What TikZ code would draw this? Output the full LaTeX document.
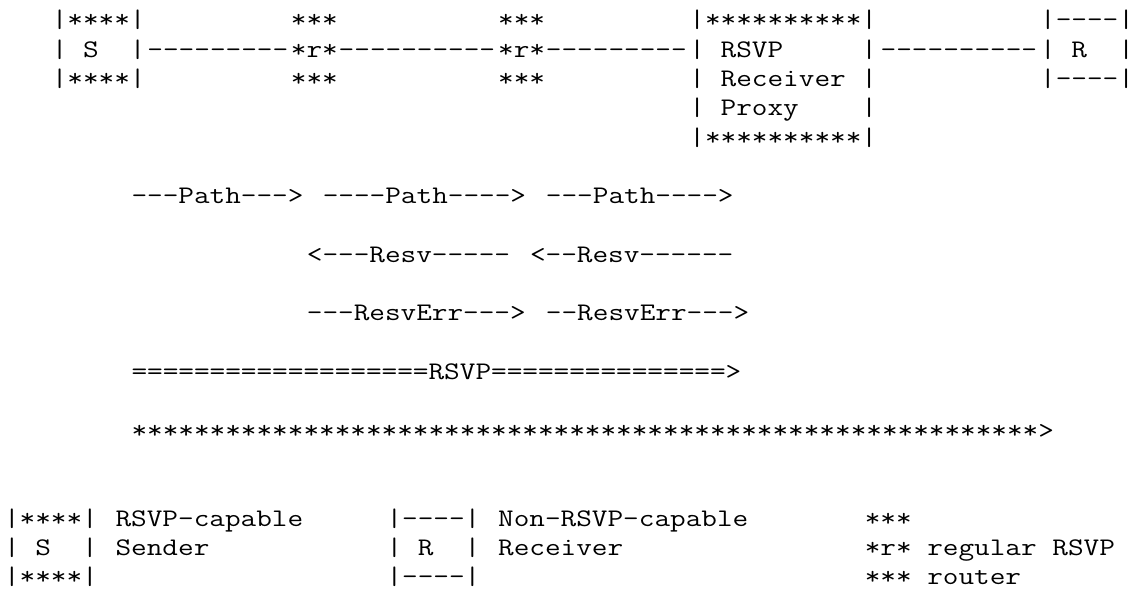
\documentclass[tikz,border=0pt]{standalone}
\usepackage{fontspec}
\setmonofont[FakeStretch=1.2]{Latin Modern Mono}
\usepackage{tikz}

\newcommand{\cw}{15.94}
\newcommand{\lh}{29.3}
\newcommand{\asc}[4]{\node[ascii] (#1) at ({4+#2*\cw},{28+#3*\lh}) {#4};}

\begin{document}
\begin{tikzpicture}[x=0.5pt,y=-0.5pt,
  ascii/.style={anchor=base west,inner sep=0pt,outer sep=0pt,
    font=\ttfamily\fontsize{12.65}{14}\selectfont}]
\useasboundingbox (0,0) rectangle (1133,592);

\asc{sndT}{3}{0}{|****|}
\asc{rtrAT}{18}{0}{***}
\asc{rtrBT}{31}{0}{***}
\asc{proxyT}{43}{0}{|**********|}
\asc{rcvT}{65}{0}{|----|}

\asc{snd}{3}{1}{|~S~~|}
\asc{linkA}{9}{1}{---------}
\asc{rtrA}{18}{1}{*r*}
\asc{linkB}{21}{1}{----------}
\asc{rtrB}{31}{1}{*r*}
\asc{linkC}{34}{1}{---------}
\asc{proxy}{43}{1}{|~RSVP~~~~~|}
\asc{linkD}{55}{1}{----------}
\asc{rcv}{65}{1}{|~R~~|}

\asc{sndB}{3}{2}{|****|}
\asc{rtrAB}{18}{2}{***}
\asc{rtrBB}{31}{2}{***}
\asc{proxyR}{43}{2}{|~Receiver~|}
\asc{rcvB}{65}{2}{|----|}
\asc{proxyP}{43}{3}{|~Proxy~~~~|}
\asc{proxyB}{43}{4}{|**********|}

\asc{pathA}{8}{6}{---Path--->}
\asc{pathB}{20}{6}{----Path---->}
\asc{pathC}{34}{6}{---Path---->}

\asc{resvA}{19}{8}{<---Resv-----}
\asc{resvB}{33}{8}{<--Resv------}

\asc{errA}{19}{10}{---ResvErr--->}
\asc{errB}{34}{10}{--ResvErr--->}

\asc{rsvp}{8}{12}{===================RSVP===============>}
\asc{flow}{8}{14}{**********************************************************>}

\asc{keyS}{0}{17}{|****|}
\asc{keySa}{7}{17}{RSVP-capable}
\asc{keyR}{24}{17}{|----|}
\asc{keyRa}{31}{17}{Non-RSVP-capable}
\asc{keyr}{54}{17}{***}
\asc{keySm}{0}{18}{|~S~~|}
\asc{keySb}{7}{18}{Sender}
\asc{keyRm}{24}{18}{|~R~~|}
\asc{keyRb}{31}{18}{Receiver}
\asc{keyrm}{54}{18}{*r*~regular~RSVP}
\asc{keySB}{0}{19}{|****|}
\asc{keyRB}{24}{19}{|----|}
\asc{keyrB}{54}{19}{***~router}

\end{tikzpicture}
\end{document}
